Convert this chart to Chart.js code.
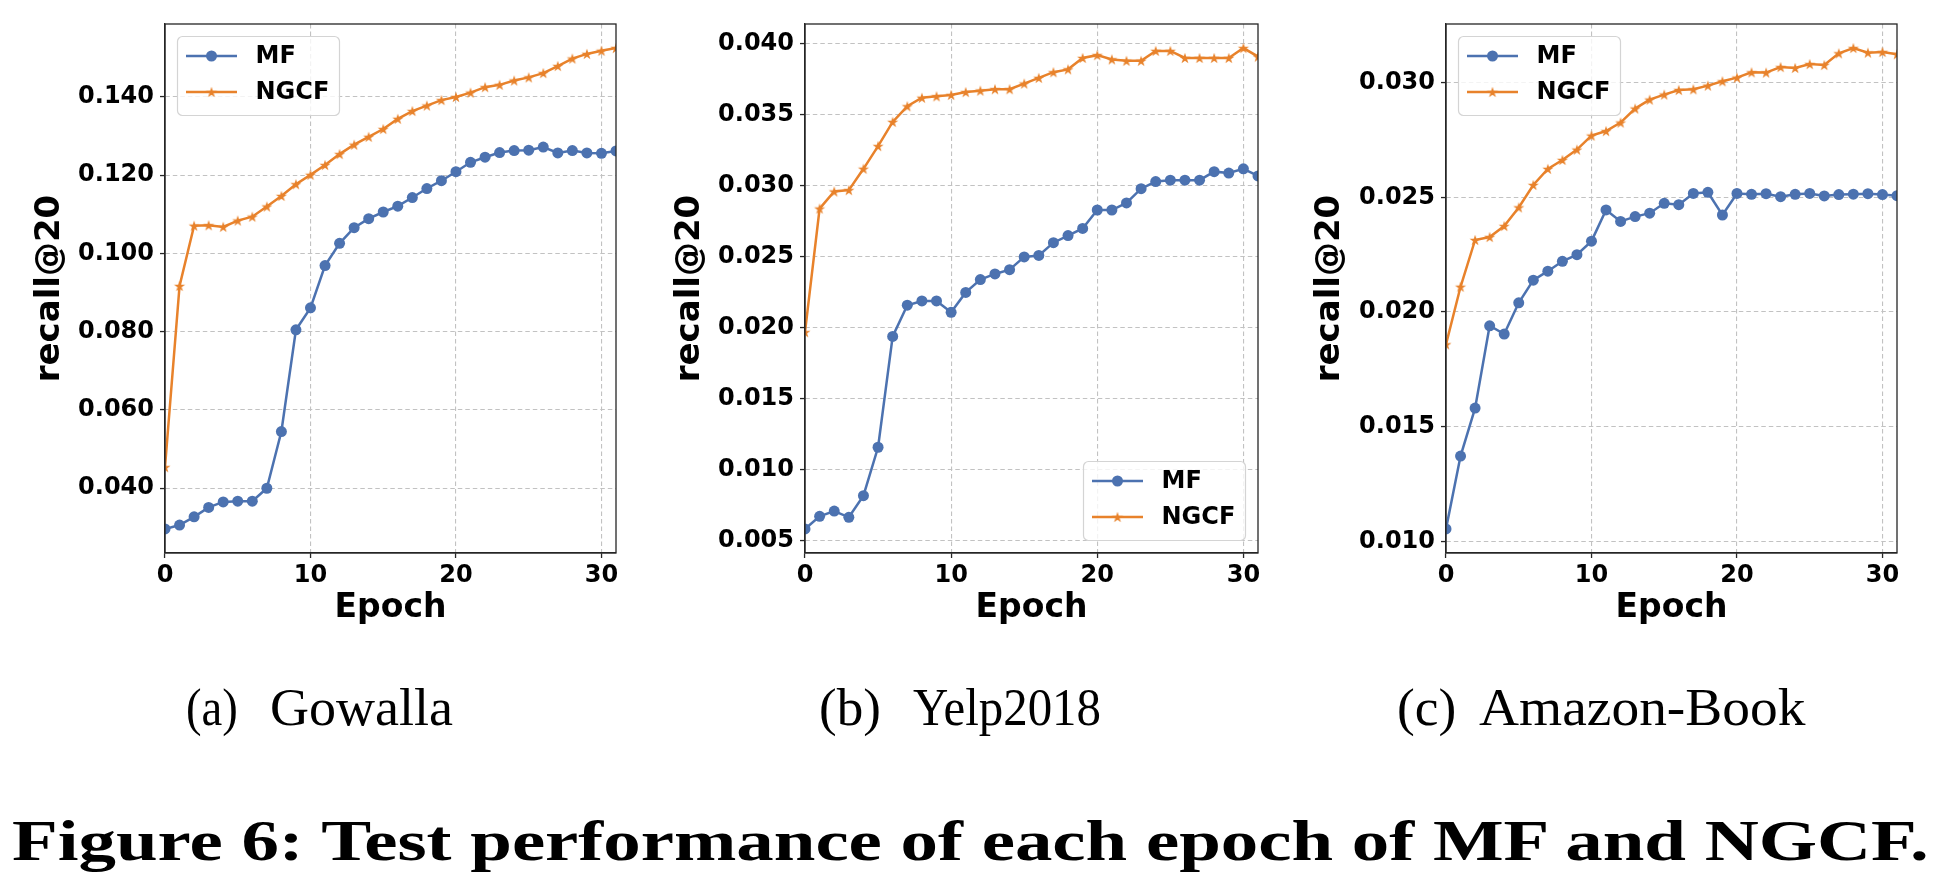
<!DOCTYPE html>
<html><head><meta charset="utf-8">
<script src="https://cdn.jsdelivr.net/npm/chart.js@4.4.0/dist/chart.umd.min.js"></script>
<style>
html,body{margin:0;padding:0;background:#fff;}
#page{position:relative;width:1939px;height:887px;overflow:hidden;background:#fff;}
canvas.c{position:absolute;top:0;}
.cap{position:absolute;white-space:nowrap;font-family:'Liberation Serif',serif;line-height:1;transform-origin:0 0;color:#000;}
</style></head><body>
<div id="page">
<canvas id="ca" class="c" style="left:0px" width="640" height="640"></canvas>
<canvas id="cb" class="c" style="left:640px" width="640" height="640"></canvas>
<canvas id="cc" class="c" style="left:1280px" width="659" height="640"></canvas>
</div>
<script>
// ---------- data ----------
const epochs = [0,1,2,3,4,5,6,7,8,9,10,11,12,13,14,15,16,17,18,19,20,21,22,23,24,25,26,27,28,29,30,31];
const seriesLabels = ['MF','NGCF'];

const gowallaMF   = [0.0296,0.0306,0.0327,0.0351,0.0365,0.0367,0.0367,0.0400,0.0545,0.0805,0.0861,0.0969,0.1026,0.1066,0.1089,0.1106,0.1121,0.1143,0.1166,0.1186,0.1209,0.1233,0.1246,0.1258,0.1263,0.1264,0.1272,0.1257,0.1263,0.1257,0.1256,0.1262];
const gowallaNGCF = [0.0454,0.0917,0.1071,0.1072,0.1068,0.1084,0.1094,0.1120,0.1147,0.1177,0.1201,0.1226,0.1254,0.1278,0.1298,0.1318,0.1344,0.1364,0.1378,0.1392,0.1400,0.1411,0.1425,0.1431,0.1442,0.1450,0.1461,0.1479,0.1498,0.1510,0.1518,0.1525];

const yelpMF   = [0.00585,0.00674,0.00711,0.00667,0.00819,0.0116,0.0194,0.0216,0.0219,0.0219,0.0211,0.0225,0.0234,0.0238,0.0241,0.0250,0.0251,0.0260,0.0265,0.0270,0.0283,0.0283,0.0288,0.0298,0.0303,0.0304,0.0304,0.0304,0.0310,0.0309,0.0312,0.0307];
const yelpNGCF = [0.0197,0.0284,0.0296,0.0297,0.0312,0.0328,0.0345,0.0356,0.0362,0.0363,0.0364,0.0366,0.0367,0.0368,0.0368,0.0372,0.0376,0.0380,0.0382,0.0390,0.0392,0.0389,0.0388,0.0388,0.0395,0.0395,0.0390,0.0390,0.0390,0.0390,0.0397,0.0391];

const amazonMF   = [0.01054,0.01372,0.01581,0.0194,0.01904,0.0204,0.02139,0.02178,0.02221,0.0225,0.02309,0.02445,0.02395,0.02416,0.02431,0.02474,0.02468,0.02517,0.02522,0.02423,0.02517,0.02513,0.02516,0.02503,0.02513,0.02517,0.02506,0.02512,0.02514,0.02516,0.02512,0.02507];
const amazonNGCF = [0.01859,0.0211,0.02314,0.02327,0.02375,0.02456,0.02554,0.02624,0.02663,0.02708,0.02769,0.02789,0.02826,0.02887,0.02926,0.02948,0.02968,0.02971,0.02987,0.03006,0.03022,0.03045,0.03044,0.03068,0.03064,0.03081,0.03077,0.03128,0.03151,0.03131,0.03134,0.03124];

const xTickValues   = [0,10,20,30];
const gowallaYTicks = [0.040,0.060,0.080,0.100,0.120,0.140];
const yelpYTicks    = [0.005,0.010,0.015,0.020,0.025,0.030,0.035,0.040];
const amazonYTicks  = [0.010,0.015,0.020,0.025,0.030];

const xTitle = 'Epoch';
const yTitle = 'recall@20';
const subLabels = ['(a)','(b)','(c)'];
const subNames  = ['Gowalla','Yelp2018','Amazon-Book'];
const figCaption = 'Figure 6: Test performance of each epoch of MF and NGCF.';

// ---------- styling ----------
const BLUE = '#4c72b0', ORANGE = '#e8822b';
Chart.defaults.font.family = "'DejaVu Sans', sans-serif";
Chart.defaults.font.size = 24;
Chart.defaults.font.weight = 'bold';
Chart.defaults.color = '#000';

function makeStar(color, R){
  const S = Math.ceil(2*R + 2);
  const c = document.createElement('canvas'); c.width = S; c.height = S;
  const g = c.getContext('2d'); g.fillStyle = color; g.beginPath();
  const r = R*0.381966, cx = S/2, cy = S/2 + R*0.08;
  for (let i = 0; i < 10; i++){
    const rad = i%2 ? r : R; const ang = -Math.PI/2 + i*Math.PI/5;
    const px = cx + rad*Math.cos(ang), py = cy + rad*Math.sin(ang);
    i ? g.lineTo(px,py) : g.moveTo(px,py);
  }
  g.closePath(); g.fill(); return c;
}
const starImg = makeStar(ORANGE, 5.8);

const framePlugin = {
  id:'frame',
  afterDatasetsDraw(chart){
    const {ctx, chartArea:a} = chart;
    ctx.save(); ctx.strokeStyle = '#262626'; ctx.lineWidth = 1.3;
    ctx.strokeRect(a.left, a.top, a.right-a.left, a.bottom-a.top); ctx.restore();
  }
};
const insetLegend = {
  id:'insetLegend',
  afterDraw(chart, args, o){
    const a = chart.chartArea, ctx = chart.ctx;
    const w = 162, h = 79, m = 12.5;
    const x = o.corner === 'br' ? a.right - m - w : a.left + m;
    const y = o.corner === 'br' ? a.bottom - m - h : a.top + m;
    ctx.save();
    ctx.beginPath(); ctx.roundRect(x, y, w, h, 5);
    ctx.fillStyle = 'rgba(255,255,255,0.8)'; ctx.fill();
    ctx.strokeStyle = '#d4d4d4'; ctx.lineWidth = 1.2; ctx.stroke();
    const rows = [19.5, 55.5];
    chart.data.datasets.forEach((ds,i) => {
      const ry = y + rows[i];
      ctx.strokeStyle = ds.borderColor; ctx.lineWidth = ds.borderWidth;
      ctx.beginPath(); ctx.moveTo(x+8.5, ry); ctx.lineTo(x+59.5, ry); ctx.stroke();
      if (ds.pointStyle === 'circle'){
        ctx.fillStyle = ds.pointBackgroundColor; ctx.beginPath();
        ctx.arc(x+34, ry, ds.pointRadius, 0, Math.PI*2); ctx.fill();
      } else {
        const im = ds.pointStyle;
        ctx.drawImage(im, x+34-im.width/2, ry-im.height/2);
      }
      ctx.fillStyle = '#000'; ctx.font = "bold 24px 'DejaVu Sans'";
      ctx.textBaseline = 'middle'; ctx.textAlign = 'left';
      ctx.fillText(ds.label, x+78, ry+1);
    });
    ctx.restore();
  }
};

function autoRange(arrs){
  const all = [].concat(...arrs); const lo = Math.min(...all), hi = Math.max(...all);
  const pad = (hi-lo)*0.05; return [lo-pad, hi+pad];
}

function build(id, mf, ngcf, yTicks, yWidth, padRight, corner){
  const [ymin, ymax] = autoRange([mf, ngcf]);
  const pts = arr => epochs.map((e,i) => ({x:e, y:arr[i]}));
  const gridCommon = {color:'#c2c2c2', lineWidth:1.1, tickLength:5, tickColor:'#262626', tickWidth:1.3, tickBorderDash:[]};
  const borderCommon = {display:true, color:'#262626', width:1.3, dash:[4.5,3]};
  return new Chart(document.getElementById(id), {
    type:'line',
    data:{datasets:[
      {label:seriesLabels[0], data:pts(mf), borderColor:BLUE, backgroundColor:BLUE, borderWidth:2.5,
       pointStyle:'circle', pointRadius:5.5, pointBorderWidth:0, pointBackgroundColor:BLUE, clip:0, tension:0},
      {label:seriesLabels[1], data:pts(ngcf), borderColor:ORANGE, backgroundColor:ORANGE, borderWidth:2.5,
       pointStyle:starImg, pointRadius:5.5, pointBorderWidth:0, pointBackgroundColor:ORANGE, clip:0, tension:0}
    ]},
    options:{
      responsive:false, animation:false, events:[], devicePixelRatio:1,
      layout:{padding:{left:0, right:padRight, top:24, bottom:0}},
      plugins:{legend:{display:false}, tooltip:{enabled:false}, insetLegend:{corner:corner}},
      scales:{
        x:{type:'linear', min:0, max:epochs[epochs.length-1],
           afterBuildTicks:s => { s.ticks = xTickValues.map(v => ({value:v})); },
           afterFit:s => { s.height = 87; },
           ticks:{padding:3, callback:v => String(v), maxRotation:0, autoSkip:false},
           grid:gridCommon, border:borderCommon,
           title:{display:true, text:xTitle, font:{size:33, weight:'bold'}, padding:{top:0, bottom:12}}},
        y:{type:'linear', min:ymin, max:ymax,
           afterBuildTicks:s => { s.ticks = yTicks.map(v => ({value:v})); },
           afterFit:s => { s.width = yWidth; },
           ticks:{padding:6, callback:v => Number(v).toFixed(3), autoSkip:false},
           grid:gridCommon, border:borderCommon,
           title:{display:true, text:yTitle, font:{size:34, weight:'bold'}, padding:{top:29.5, bottom:0}}}
      }
    },
    plugins:[framePlugin, insetLegend]
  });
}

build('ca', gowallaMF, gowallaNGCF, gowallaYTicks, 165, 24, 'tl');
build('cb', yelpMF, yelpNGCF, yelpYTicks, 165, 22, 'br');
build('cc', amazonMF, amazonNGCF, amazonYTicks, 166, 42, 'tl');

// ---------- captions ----------
const page = document.getElementById('page');
function placeCap(text, left, right, baseline, size, weight){
  const el = document.createElement('div'); el.className = 'cap'; el.textContent = text;
  el.style.fontSize = size + 'px'; el.style.fontWeight = weight;
  el.style.left = left + 'px'; el.style.top = (baseline - 0.8375*size) + 'px';
  page.appendChild(el);
  const w = el.getBoundingClientRect().width;
  el.style.transform = 'scaleX(' + ((right-left)/w) + ')';
}
const subLabelSpan = [[185.5,237.4],[818.6,880.5],[1397.4,1456.7]];
const subNameSpan  = [[269.6,452.6],[912.6,1100.6],[1479,1805.5]];
subLabels.forEach((t,i) => placeCap(t, subLabelSpan[i][0], subLabelSpan[i][1], 725, 53, 'normal'));
subNames.forEach((t,i) => placeCap(t, subNameSpan[i][0], subNameSpan[i][1], 725, 53, 'normal'));
placeCap(figCaption, 12.4, 1929, 861, 58, 'bold');
</script>
</body></html>
